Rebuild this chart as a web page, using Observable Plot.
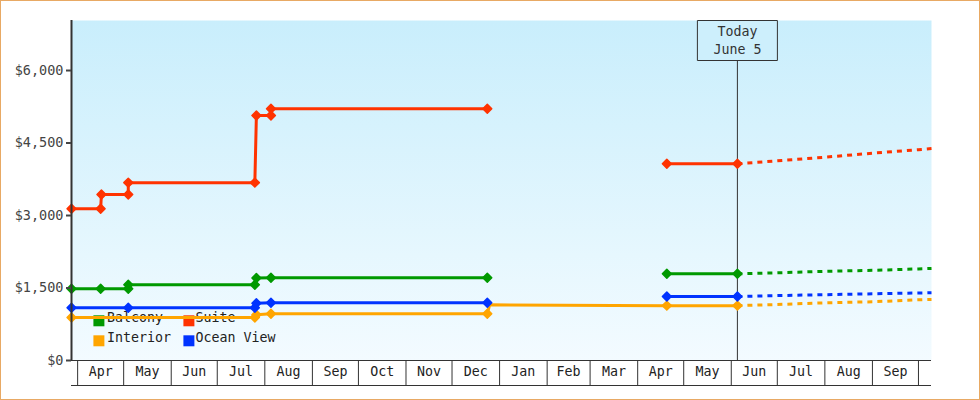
<!DOCTYPE html>
<html>
<head>
<meta charset="utf-8">
<script src="https://cdn.jsdelivr.net/npm/d3@7"></script>
<script src="https://cdn.jsdelivr.net/npm/@observablehq/plot@0.6"></script>
<style>
  body { margin: 0; background: #fff; }
  #wrap { position: relative; width: 980px; height: 400px; overflow: hidden; }
  #wrap::after { content: ""; position: absolute; left: 0; top: 0; right: 0; bottom: 0; border: 1.5px solid #e8a964; pointer-events: none; }
  #wrap svg { display: block; }
</style>
</head>
<body>
<div id="wrap"></div>
<script>
// ---- data ----
const seriesNames = ["Balcony", "Suite", "Interior", "Ocean View"];
const seriesColors = ["#009900", "#ff3300", "#ffa500", "#0033ff"];

const yTicks = [0, 1500, 3000, 4500, 6000];
const yMax = 7035;
const xStart = "2013-03-28";
const xEnd = "2014-10-09T12:00Z";
const today = "2014-06-05";
const todayLabel = "Today\nJune 5";

const monthStarts = ["2013-04-01","2013-05-01","2013-06-01","2013-07-01","2013-08-01","2013-09-01",
  "2013-10-01","2013-11-01","2013-12-01","2014-01-01","2014-02-01","2014-03-01","2014-04-01",
  "2014-05-01","2014-06-01","2014-07-01","2014-08-01","2014-09-01","2014-10-01"];
const monthLabels = ["Apr","May","Jun","Jul","Aug","Sep","Oct","Nov","Dec","Jan","Feb","Mar",
  "Apr","May","Jun","Jul","Aug","Sep"];

// Balcony
const balconyDates = ["2013-03-28","2013-04-16","2013-05-04","2013-05-04","2013-07-25T12:00Z","2013-07-26T12:00Z","2013-08-05","2013-12-24"];
const balconyPrices = [1485, 1485, 1485, 1568, 1568, 1708, 1712, 1712];
const balcony2Dates = ["2014-04-20", "2014-06-05"];
const balcony2Prices = [1795, 1795];

// Suite
const suiteDates = ["2013-03-28","2013-04-16","2013-04-16T12:00Z","2013-05-04","2013-05-04","2013-07-25T12:00Z","2013-07-26T12:00Z","2013-08-05","2013-08-05","2013-12-24"];
const suitePrices = [3140, 3140, 3435, 3435, 3680, 3680, 5070, 5070, 5210, 5210];
const suite2Dates = ["2014-04-20", "2014-06-05"];
const suite2Prices = [4070, 4070];

// Interior
const interiorDates = ["2013-03-28","2013-07-25T12:00Z","2013-07-26T12:00Z","2013-08-05","2013-12-24","2013-12-25T12:00Z","2014-04-20","2014-06-05"];
const interiorPrices = [890, 890, 946, 966, 966, 1152, 1135, 1135];
const interiorUnmarked = ["2013-12-25T12:00Z"];

// Ocean View
const oceanDates = ["2013-03-28","2013-05-04","2013-07-25T12:00Z","2013-07-26T12:00Z","2013-08-05","2013-12-24"];
const oceanPrices = [1090, 1090, 1090, 1186, 1194, 1194];
const ocean2Dates = ["2014-04-20", "2014-06-05"];
const ocean2Prices = [1324, 1324];

// Forecasts
const forecastDates = ["2014-06-05","2014-07-01","2014-08-01","2014-09-01","2014-10-01","2014-10-09T12:00Z"];
const balconyForecast = [1795, 1815, 1845, 1865, 1895, 1905];
const suiteForecast = [4070, 4132, 4206, 4289, 4362, 4386];
const interiorForecast = [1135, 1159, 1194, 1215, 1256, 1262];
const oceanForecast = [1324, 1343, 1362, 1380, 1398, 1402];

// ---- tables ----
const observed = [];
function addSeg(series, seg, dates, prices, unmarked = []) {
  dates.forEach((d, i) => observed.push({series, seg, date: new Date(d), price: prices[i], marker: !unmarked.includes(d)}));
}
addSeg("Balcony", "b1", balconyDates, balconyPrices);
addSeg("Balcony", "b2", balcony2Dates, balcony2Prices);
addSeg("Suite", "s1", suiteDates, suitePrices);
addSeg("Suite", "s2", suite2Dates, suite2Prices);
addSeg("Interior", "i1", interiorDates, interiorPrices, interiorUnmarked);
addSeg("Ocean View", "o1", oceanDates, oceanPrices);
addSeg("Ocean View", "o2", ocean2Dates, ocean2Prices);

const forecast = [];
[["Balcony", balconyForecast], ["Suite", suiteForecast], ["Interior", interiorForecast], ["Ocean View", oceanForecast]]
  .forEach(([series, vals]) => forecastDates.forEach((d, i) => forecast.push({series, date: new Date(d), price: vals[i]})));

const monthStartDates = monthStarts.map(d => new Date(d));
const monthMids = monthLabels.map((_, i) => new Date((+monthStartDates[i] + +monthStartDates[i + 1]) / 2));
const labelByTime = new Map(monthMids.map((d, i) => [+d, monthLabels[i]]));

// background gradient defs
const bgDefs = () => {
  const g = d3.create("svg:g");
  const grad = g.append("defs").append("linearGradient")
    .attr("id", "bgGrad").attr("x1", 0).attr("y1", 0).attr("x2", 0).attr("y2", 1);
  grad.append("stop").attr("offset", "0%").attr("stop-color", "#c9eefc");
  grad.append("stop").attr("offset", "100%").attr("stop-color", "#f3fbff");
  return g.node();
};

const boxSymbol = { draw(context) { context.rect(-40, -20, 80, 40); } };

const legendMarks = seriesNames.flatMap((name, i) => {
  const col = i % 2, row = Math.floor(i / 2);
  return [
    Plot.dot([name], {frameAnchor: "bottom-left", dx: 27.4 + col * 90, dy: -39.7 + row * 20,
      symbol: "square", r: 6.2, fill: seriesColors[i], stroke: "none"}),
    Plot.text([name], {frameAnchor: "bottom-left", dx: 35.5 + col * 88.5, dy: -38.5 + row * 20,
      text: d => d, textAnchor: "start", fontSize: 13.3, fill: "#222"})
  ];
});

const todayDate = new Date(today);

const plot = Plot.plot({
  width: 980,
  height: 400,
  marginLeft: 71,
  marginRight: 49,
  marginTop: 20,
  marginBottom: 40,
  style: {fontFamily: "'DejaVu Sans Mono', monospace", fontSize: "13px", background: "transparent", color: "#333"},
  x: {type: "utc", domain: [new Date(xStart), new Date(xEnd)], label: null},
  y: {domain: [0, yMax], label: null},
  color: {domain: seriesNames, range: seriesColors},
  marks: [
    bgDefs,
    Plot.frame({fill: "url(#bgGrad)", stroke: "none"}),
    ...legendMarks,
    Plot.ruleX([todayDate], {insetTop: 40, stroke: "#333", strokeWidth: 1}),
    Plot.line(observed, {x: "date", y: "price", z: "seg", stroke: "series", strokeWidth: 3, curve: "linear"}),
    Plot.line(forecast, {x: "date", y: "price", z: "series", stroke: "series", strokeWidth: 3,
      strokeDasharray: "5,5", strokeLinecap: "butt", curve: "linear"}),
    Plot.dot(observed.filter(d => d.marker), {x: "date", y: "price", fill: "series", stroke: "series",
      symbol: "diamond2", r: 4, strokeWidth: 1.5, strokeLinejoin: "round"}),
    Plot.dot([todayDate], {x: d => d, frameAnchor: "top", dy: 20, symbol: boxSymbol,
      fill: "#cdeffc", stroke: "#333", strokeWidth: 1}),
    Plot.text([todayDate], {x: d => d, frameAnchor: "top", lineAnchor: "top", dy: 3,
      text: () => todayLabel, lineHeight: 1.33, fontSize: 13.3, fill: "#333"}),
    Plot.ruleY([0], {stroke: "#333", strokeWidth: 1}),
    Plot.ruleY([0], {dy: 25, stroke: "#333", strokeWidth: 1}),
    Plot.ruleX([new Date(xStart)], {stroke: "#333", strokeWidth: 2}),
    Plot.axisY({ticks: yTicks, tickFormat: d => "$" + d3.format(",")(d), tickSize: 5, tickPadding: 3,
      strokeWidth: 2, color: "#444", fontSize: 13.5}),
    Plot.axisX({ticks: monthStartDates, tickSize: 25, tickFormat: () => "", color: "#333"}),
    Plot.axisX({ticks: monthMids, tickSize: 0, tickPadding: 6.5, tickFormat: d => labelByTime.get(+d),
      color: "#222", fontSize: 13.3})
  ]
});

document.getElementById("wrap").appendChild(plot);
</script>
</body>
</html>
